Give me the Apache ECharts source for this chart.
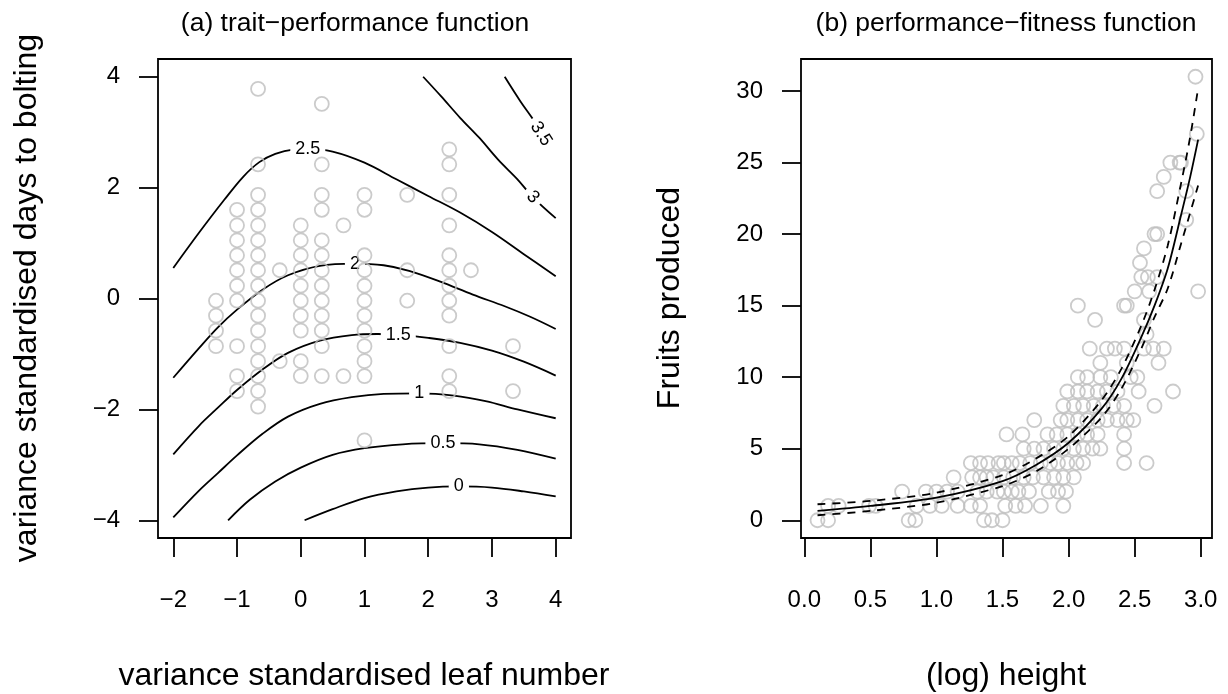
<!DOCTYPE html>
<html>
<head>
<meta charset="utf-8">
<script src="https://cdn.jsdelivr.net/npm/echarts@6.0.0/dist/echarts.min.js"></script>
<style>
  html, body { margin: 0; padding: 0; background: #fff; }
  #chart { width: 1228px; height: 694px; }
</style>
</head>
<body>
<div id="chart"></div>
<script>
// ---- panel (a): leaf number vs days to bolting ----
var leafCols = [-1.33, -1, -0.67, -0.33, 0, 0.33, 0.67, 1, 1.67, 2.33, 2.67, 3.33];
var boltRows = [
  [-0.04, -0.31, -0.58, -0.86],
  [1.6, 1.32, 1.05, 0.78, 0.51, 0.23, -0.04, -0.86, -1.4, -1.67],
  [3.78, 2.42, 1.87, 1.6, 1.32, 1.05, 0.78, 0.51, 0.23, -0.04, -0.31, -0.58, -0.86, -1.13, -1.4, -1.67, -1.95],
  [0.51, -1.13],
  [1.32, 1.05, 0.78, 0.51, 0.23, -0.04, -0.31, -0.58, -1.13, -1.4],
  [3.51, 2.42, 1.87, 1.6, 1.05, 0.78, 0.51, 0.23, -0.04, -0.31, -0.58, -0.86, -1.4],
  [1.32, -1.4],
  [1.87, 1.6, 0.78, 0.51, 0.23, -0.04, -0.31, -0.58, -0.86, -1.13, -1.4, -2.56],
  [1.87, 0.51, -0.04],
  [2.69, 2.42, 1.87, 1.32, 0.78, 0.51, 0.23, -0.04, -0.31, -0.86, -1.4, -1.67],
  [0.51],
  [-0.86, -1.67]
];

// contour lines
var c00 = [[0.06, -4.0], [0.5, -3.8], [1.0, -3.6], [1.5, -3.48], [2.0, -3.41], [2.48, -3.39], [3.0, -3.41], [3.5, -3.48], [4.0, -3.57]];
var c05 = [[-1.14, -4.0], [-0.8, -3.63], [-0.4, -3.3], [0, -3.05], [0.5, -2.82], [1.0, -2.7], [1.6, -2.63], [2.23, -2.61], [2.8, -2.63], [3.4, -2.73], [4.0, -2.89]];
var c10 = [[-2, -3.95], [-1.6, -3.47], [-1.3, -3.15], [-1, -2.83], [-0.6, -2.44], [-0.2, -2.13], [0.3, -1.9], [0.8, -1.78], [1.3, -1.72], [1.86, -1.71], [2.4, -1.75], [2.9, -1.85], [3.4, -2.0], [4.0, -2.16]];
var c15 = [[-2, -2.81], [-1.6, -2.3], [-1.3, -1.97], [-1, -1.65], [-0.6, -1.28], [-0.2, -0.98], [0.3, -0.76], [0.8, -0.66], [1.2, -0.64], [1.53, -0.65], [2.0, -0.71], [2.5, -0.8], [3.0, -0.94], [3.5, -1.14], [4.0, -1.39]];
var c20 = [[-2, -1.43], [-1.6, -0.9], [-1.3, -0.52], [-1.0, -0.2], [-0.6, 0.16], [-0.2, 0.42], [0.3, 0.59], [0.85, 0.63], [1.3, 0.6], [1.7, 0.5], [2.2, 0.3], [2.7, 0.07], [3.2, -0.14], [3.6, -0.33], [4.0, -0.55]];
var c25 = [[-2, 0.55], [-1.6, 1.18], [-1.2, 1.78], [-0.9, 2.2], [-0.65, 2.46], [-0.4, 2.61], [-0.1, 2.69], [0.11, 2.7], [0.5, 2.65], [1.0, 2.45], [1.5, 2.15], [2.0, 1.85], [2.5, 1.55], [3.0, 1.2], [3.5, 0.8], [4.0, 0.4]];
var c30 = [[1.92, 4.0], [2.2, 3.65], [2.5, 3.26], [2.8, 2.9], [3.1, 2.5], [3.4, 2.15], [3.64, 1.83], [4.0, 1.45]];
var c35 = [[3.2, 4.0], [3.45, 3.55], [3.64, 3.24], [3.8, 2.95]];
var contourLines = [c00, c05, c10, c15, c20, c25, c30, c35];

var contourLabelText = ['0', '0.5', '1', '1.5', '2', '2.5', '3', '3.5'];
var contourLabelX = [2.48, 2.23, 1.86, 1.53, 0.85, 0.11, 3.64, 3.77];
var contourLabelY = [-3.39, -2.61, -1.71, -0.65, 0.63, 2.7, 1.83, 2.97];
var contourLabelAngle = [0, 0, 0, 0, 0, 0, -46, -57];

var xTicksA = [-2, -1, 0, 1, 2, 3, 4];
var yTicksA = [-4, -2, 0, 2, 4];

// ---- panel (b): log height vs fruits ----
// index of the list = number of fruits
var heightByFruit = [
  [0.1, 0.18, 0.79, 0.84, 1.36, 1.42, 1.5],
  [0.18, 0.26, 0.49, 0.54, 0.85, 0.95, 1.04, 1.16, 1.26, 1.33, 1.52, 1.6, 1.67, 1.79, 1.96],
  [0.74, 0.92, 1.0, 1.08, 1.16, 1.31, 1.38, 1.46, 1.51, 1.57, 1.62, 1.7, 1.85, 1.92, 1.98],
  [1.13, 1.27, 1.33, 1.38, 1.43, 1.51, 1.58, 1.66, 1.73, 1.81, 1.89, 1.96, 2.04],
  [1.26, 1.33, 1.39, 1.47, 1.51, 1.57, 1.63, 1.71, 1.79, 1.86, 1.92, 1.99, 2.06, 2.11, 2.42, 2.59],
  [1.66, 1.74, 1.81, 1.89, 1.96, 2.04, 2.11, 2.18, 2.24, 2.42],
  [1.53, 1.65, 1.84, 1.91, 1.99, 2.07, 2.14, 2.22, 2.42],
  [1.74, 1.94, 1.99, 2.07, 2.14, 2.22, 2.29, 2.37, 2.44, 2.49],
  [1.96, 2.04, 2.11, 2.19, 2.26, 2.34, 2.42, 2.65],
  [1.99, 2.07, 2.14, 2.22, 2.29, 2.37, 2.53, 2.79],
  [2.07, 2.14, 2.24, 2.32, 2.47, 2.52],
  [2.24, 2.44, 2.68],
  [2.16, 2.29, 2.35, 2.42, 2.57, 2.64, 2.72],
  [2.59],
  [2.2, 2.57],
  [2.07, 2.42, 2.44],
  [2.5, 2.61, 2.98],
  [2.55, 2.6, 2.67],
  [2.54],
  [2.57],
  [2.65, 2.67],
  [2.89],
  [],
  [2.67, 2.89],
  [2.72],
  [2.77, 2.84, 2.85],
  [],
  [2.97],
  [],
  [],
  [],
  [2.96]
];

var fitX   = [0.1, 0.5, 1.0, 1.5, 1.75, 2.0, 2.25, 2.4, 2.55, 2.65, 2.75, 2.85, 2.92, 2.98];
var fitMid = [0.65, 1.0, 1.58, 2.74, 3.85, 5.42, 7.8, 9.9, 12.8, 15.0, 17.6, 21.3, 24.0, 26.6];
var fitUp  = [1.12, 1.35, 1.93, 3.15, 4.3, 5.88, 8.4, 10.6, 13.6, 16.1, 19.2, 23.5, 26.8, 30.2];
var fitLo  = [0.35, 0.65, 1.23, 2.39, 3.4, 5.0, 7.2, 9.2, 12.0, 14.2, 16.2, 19.3, 21.5, 23.4];

var xTicksB = [0, 0.5, 1, 1.5, 2, 2.5, 3];
var yTicksB = [0, 5, 10, 15, 20, 25, 30];

// ---- build ----
var FONT = '"Liberation Sans", Arial, Helvetica, sans-serif';
var ptsA = [];
for (var i = 0; i < leafCols.length; i++) {
  for (var j = 0; j < boltRows[i].length; j++) {
    ptsA.push([leafCols[i], boltRows[i][j]]);
  }
}
var ptsB = [];
for (var f = 0; f < heightByFruit.length; f++) {
  for (var k = 0; k < heightByFruit[f].length; k++) {
    ptsB.push([heightByFruit[f][k], f]);
  }
}
function zip(xs, ys) {
  var out = [];
  for (var i = 0; i < xs.length; i++) out.push([xs[i], ys[i]]);
  return out;
}
var labelData = [];
for (var i = 0; i < contourLabelText.length; i++) {
  labelData.push({
    value: [contourLabelX[i], contourLabelY[i]],
    name: contourLabelText[i],
    label: { rotate: contourLabelAngle[i] }
  });
}

function minus(v) { return String(v).replace('-', '\u2212'); }

function axisBase(ticks, fmt) {
  return {
    type: 'value',
    axisLine: { show: false, onZero: false },
    splitLine: { show: false },
    axisTick: { show: true, length: 19, customValues: ticks, lineStyle: { color: '#000', width: 1.8 } },
    axisLabel: { customValues: ticks, formatter: fmt, color: '#000', fontSize: 24, fontFamily: FONT, margin: 0 }
  };
}

var xA = axisBase(xTicksA, minus);
xA.gridIndex = 0; xA.min = -2.24; xA.max = 4.24; xA.axisLabel.margin = 50;
var yA = axisBase(yTicksA, minus);
yA.gridIndex = 0; yA.min = -4.32; yA.max = 4.32; yA.axisLabel.margin = 38;
var xB = axisBase(xTicksB, function (v) { return v.toFixed(1); });
xB.gridIndex = 1; xB.min = -0.025; xB.max = 3.085; xB.axisLabel.margin = 50;
var yB = axisBase(yTicksB, function (v) { return String(v); });
yB.gridIndex = 1; yB.min = -1.24; yB.max = 32.24; yB.axisLabel.margin = 38;

var pointStyle = { color: 'rgba(0,0,0,0)', borderColor: '#bebebe', borderWidth: 1.8 };

var series = [];
contourLines.forEach(function (line) {
  series.push({
    type: 'line', xAxisIndex: 0, yAxisIndex: 0, data: line,
    smooth: 0.35, symbol: 'none', silent: true, z: 2,
    lineStyle: { color: '#000', width: 1.8 }
  });
});
series.push({
  type: 'scatter', xAxisIndex: 0, yAxisIndex: 0, data: labelData,
  symbolSize: 20, itemStyle: { color: '#fff', opacity: 1, borderWidth: 0 }, silent: true, z: 3,
  label: {
    show: true, position: 'inside', formatter: '{b}', opacity: 1,
    color: '#000', fontSize: 18, fontFamily: FONT, fontWeight: 'normal',
    textBorderWidth: 0, textShadowBlur: 0,
    backgroundColor: '#fff', padding: [1, 5]
  }
});
series.push({
  type: 'scatter', xAxisIndex: 0, yAxisIndex: 0, data: ptsA,
  symbol: 'circle', symbolSize: 14, itemStyle: pointStyle, silent: true, z: 4
});
series.push({
  type: 'scatter', xAxisIndex: 1, yAxisIndex: 1, data: ptsB,
  symbol: 'circle', symbolSize: 14, itemStyle: pointStyle, silent: true, z: 2
});
series.push({
  type: 'line', xAxisIndex: 1, yAxisIndex: 1, data: zip(fitX, fitMid),
  smooth: 0.3, symbol: 'none', silent: true, z: 3,
  lineStyle: { color: '#000', width: 1.8 }
});
[fitUp, fitLo].forEach(function (band) {
  series.push({
    type: 'line', xAxisIndex: 1, yAxisIndex: 1, data: zip(fitX, band),
    smooth: 0.3, symbol: 'none', silent: true, z: 3,
    lineStyle: { color: '#000', width: 1.8, type: [8, 7] }
  });
});

function txt(x, y, s, size, rot) {
  return {
    type: 'text', x: x, y: y, rotation: rot || 0, silent: true,
    style: { text: s, fill: '#000', fontSize: size, fontFamily: FONT, align: 'center', verticalAlign: 'middle' }
  };
}

var chart = echarts.init(document.getElementById('chart'), null, { renderer: 'canvas' });
chart.setOption({
  animation: false,
  backgroundColor: '#fff',
  grid: [
    { left: 158, top: 59, width: 413, height: 479, show: true, borderColor: '#000', borderWidth: 1.8, backgroundColor: 'transparent' },
    { left: 801, top: 59, width: 411, height: 479, show: true, borderColor: '#000', borderWidth: 1.8, backgroundColor: 'transparent' }
  ],
  xAxis: [xA, xB],
  yAxis: [yA, yB],
  series: series,
  graphic: [
    txt(355, 24, '(a) trait\u2212performance function', 26.5),
    txt(1006, 24, '(b) performance\u2212fitness function', 26.5),
    txt(364, 676, 'variance standardised leaf number', 32),
    txt(1006, 676, '(log) height', 32),
    txt(27, 298, 'variance standardised days to bolting', 32, Math.PI / 2),
    txt(670, 298, 'Fruits produced', 32, Math.PI / 2)
  ]
});
</script>
</body>
</html>
